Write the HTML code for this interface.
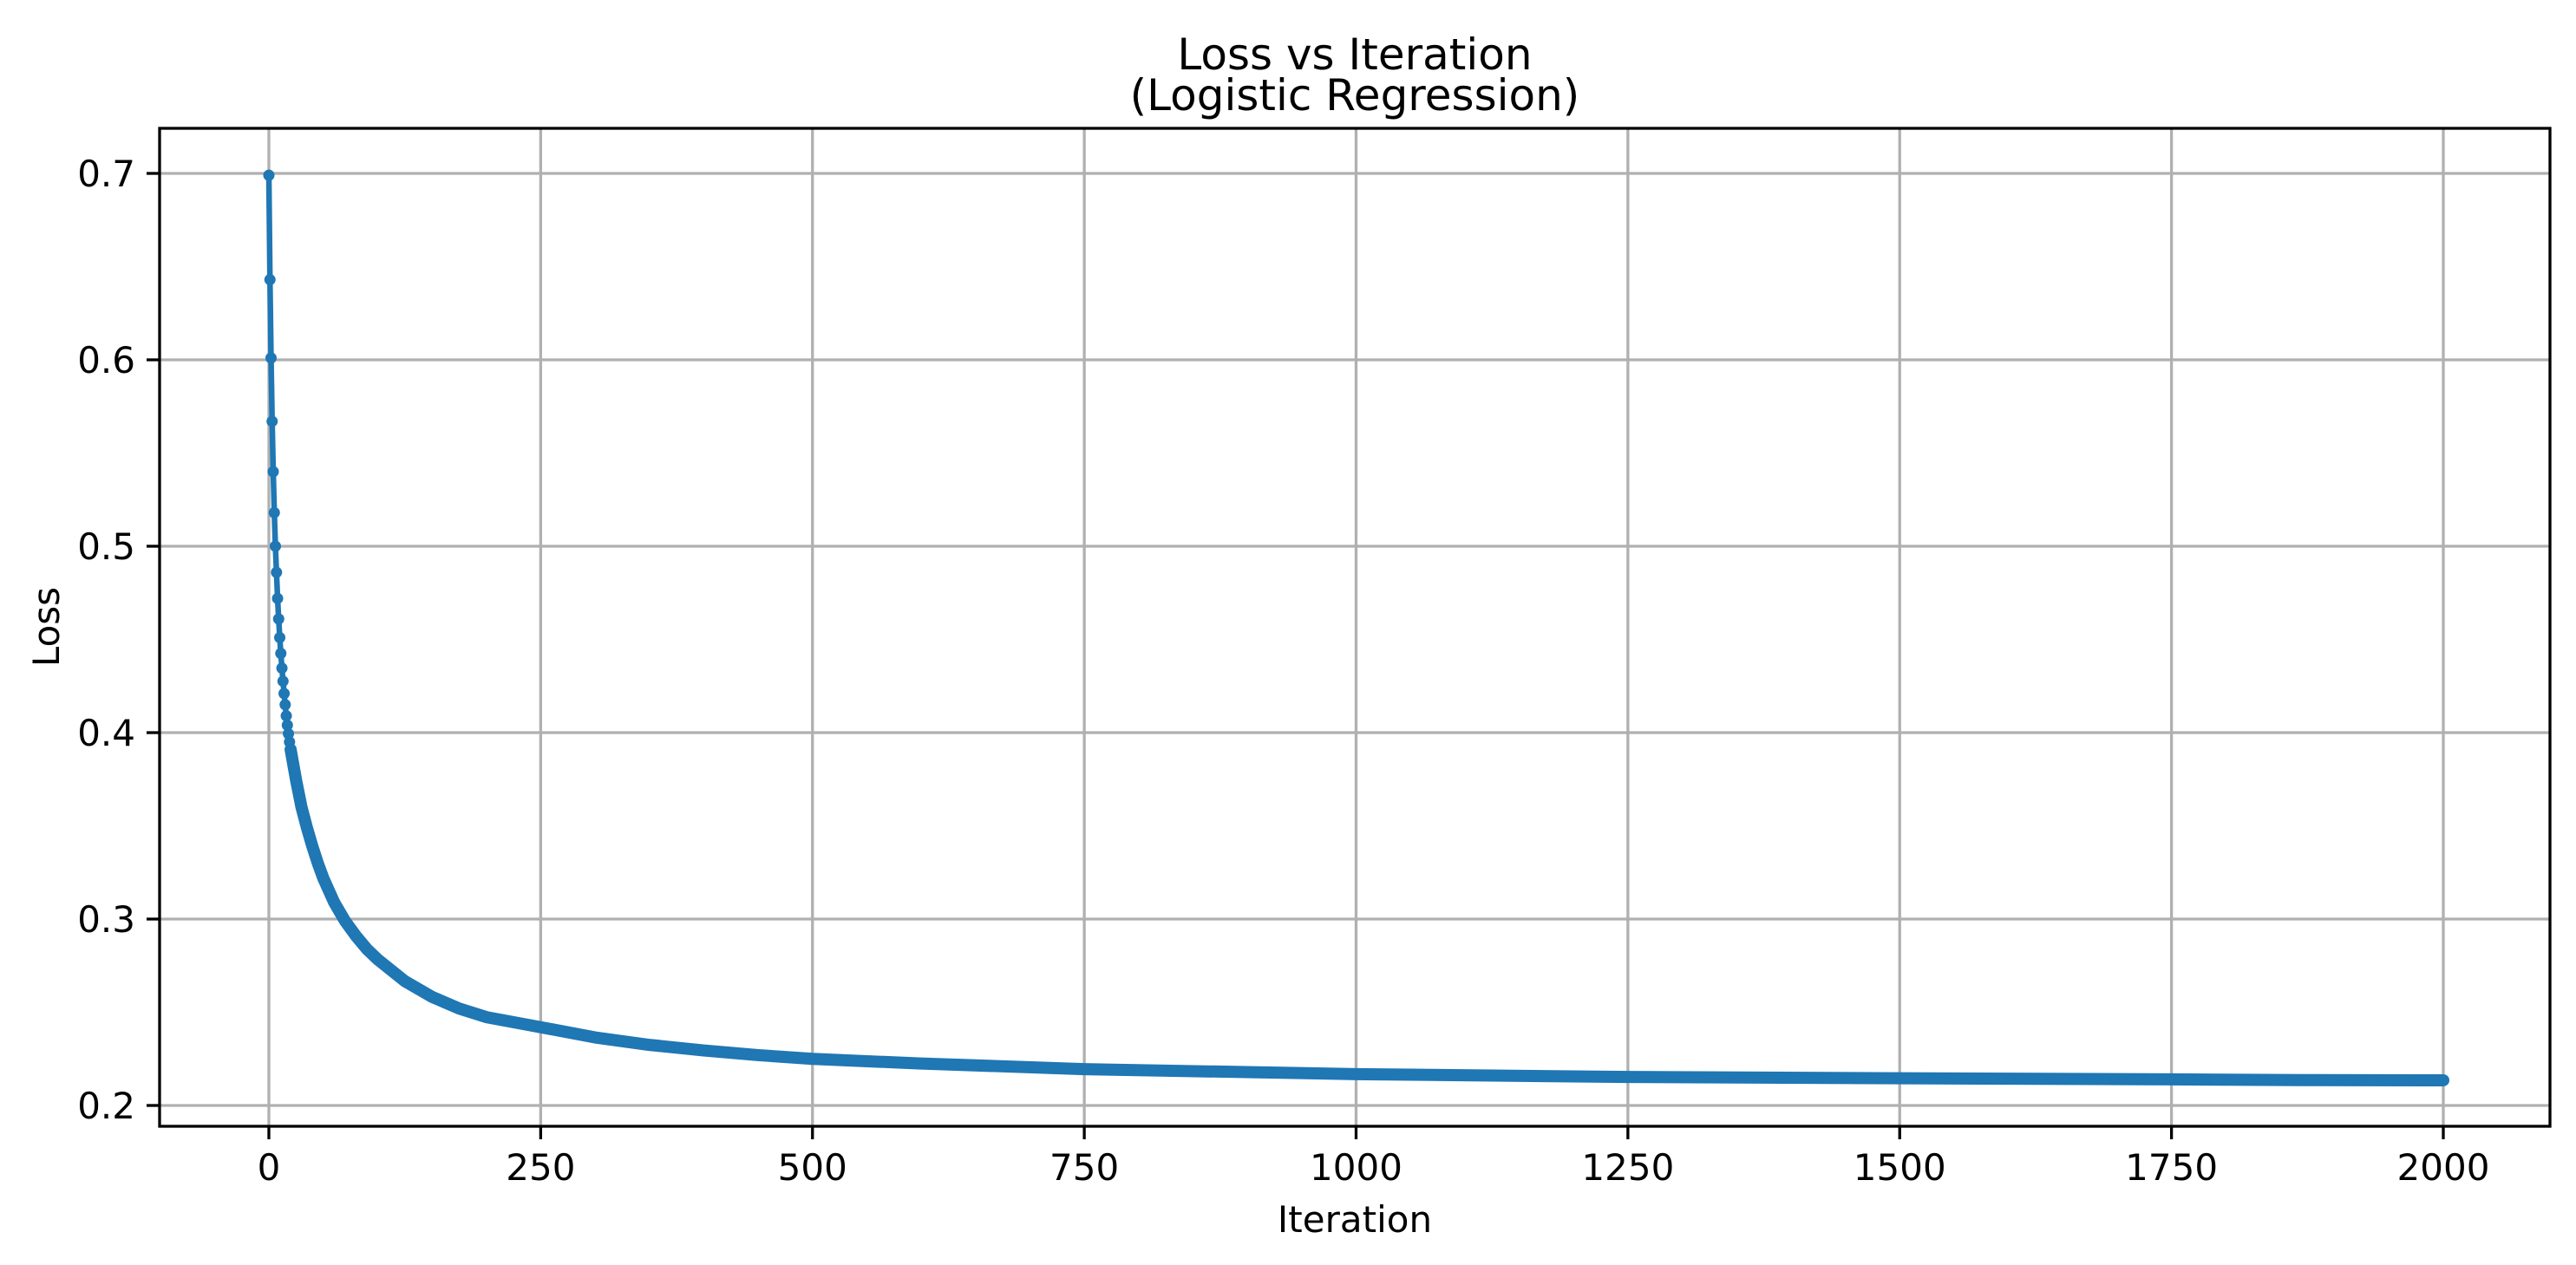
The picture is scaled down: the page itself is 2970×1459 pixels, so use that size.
<!DOCTYPE html>
<html><head><meta charset="utf-8"><style>
html,body{margin:0;padding:0;background:#fff;}
svg{display:block;font-family:"DejaVu Sans","Liberation Sans",sans-serif;}
</style></head><body>
<svg id="chart" width="2970" height="1459" viewBox="0 0 2970 1459">
<rect width="2970" height="1459" fill="#fff"/>
<g id="grid"></g>
<g id="series"></g>
<rect x="184" y="148" width="2756" height="1151" fill="none" stroke="#000" stroke-width="3.3"/>
<g id="ticks"></g>
<text x="1562" y="80" font-size="50" text-anchor="middle">Loss vs Iteration</text>
<text x="1562" y="127" font-size="50" text-anchor="middle">(Logistic Regression)</text>
<text x="1562" y="1421" font-size="42" text-anchor="middle">Iteration</text>
<text x="0" y="0" font-size="42" text-anchor="middle" transform="translate(68,723) rotate(-90)">Loss</text>
</svg>
<script>
const iterations = [0,1,2,3,4,5,6,7,8,9,10,11,12,13,14,15,16,17,18,19,20,25,30,35,40,45,50,60,70,80,90,100,125,150,175,200,250,300,350,400,450,500,600,750,1000,1250,1500,1750,1870,2000];
const losses = [0.699,0.643,0.601,0.567,0.540,0.518,0.500,0.486,0.472,0.461,0.451,0.4425,0.4346,0.4276,0.421,0.415,0.409,0.404,0.3994,0.395,0.391,0.3746,0.36,0.349,0.339,0.330,0.322,0.309,0.299,0.291,0.284,0.2784,0.2667,0.2583,0.252,0.2474,0.242,0.2365,0.2325,0.2295,0.227,0.225,0.2225,0.2195,0.2168,0.2153,0.2146,0.214,0.2136,0.2135];
const xTicks = [0,250,500,750,1000,1250,1500,1750,2000];
const yTicks = [0.2,0.3,0.4,0.5,0.6,0.7];
const yTickLabels = ["0.2","0.3","0.4","0.5","0.6","0.7"];

const NS = "http://www.w3.org/2000/svg";
function xs(v){return 310 + v*(2817-310)/2000;}
function ys(v){return 1275 - (v-0.2)*(1275-200)/0.5;}
function mk(tag, attrs, parent){const e=document.createElementNS(NS,tag);for(const k in attrs)e.setAttribute(k,attrs[k]);parent.appendChild(e);return e;}
const grid=document.getElementById('grid'), ticks=document.getElementById('ticks'), series=document.getElementById('series');

xTicks.forEach(t=>{
  const x=xs(t);
  const g=mk('line',{x1:x,x2:x,y1:148,y2:1299,stroke:'#b0b0b0','stroke-width':3.3},grid);
  
  
  const tk=mk('line',{x1:x,x2:x,y1:1299,y2:1314,stroke:'#000','stroke-width':3.3},ticks);
  
  
  const lb=mk('text',{x:x,y:1361,'font-size':42,'text-anchor':'middle'},ticks);
  lb.textContent=String(t);
  
  
});
yTicks.forEach((t,i)=>{
  const y=ys(t);
  const g=mk('line',{x1:184,x2:2940,y1:y,y2:y,stroke:'#b0b0b0','stroke-width':3.3},grid);
  
  
  const tk=mk('line',{x1:169,x2:184,y1:y,y2:y,stroke:'#000','stroke-width':3.3},ticks);
  
  
  const lb=mk('text',{x:156,y:y+15,'font-size':42,'text-anchor':'end'},ticks);
  lb.textContent=yTickLabels[i];
  
  
});

const pts=iterations.map((it,i)=>xs(it).toFixed(2)+','+ys(losses[i]).toFixed(2)).join(' ');
const line=mk('polyline',{points:pts,fill:'none',stroke:'#1f77b4','stroke-width':6.5,'stroke-linejoin':'round','stroke-linecap':'round'},series);


const densePts=iterations.map((it,i)=>[it,losses[i]]).filter(p=>p[0]>=20).map(p=>xs(p[0]).toFixed(2)+','+ys(p[1]).toFixed(2)).join(' ');
const band=mk('polyline',{points:densePts,fill:'none',stroke:'#1f77b4','stroke-width':14,'stroke-linejoin':'round','stroke-linecap':'round'},series);


iterations.forEach((it,i)=>{
  if(it>30) return;
  const c=mk('circle',{cx:xs(it),cy:ys(losses[i]),r:6.5,fill:'#1f77b4'},series);
  
  
});
</script>
</body></html>
